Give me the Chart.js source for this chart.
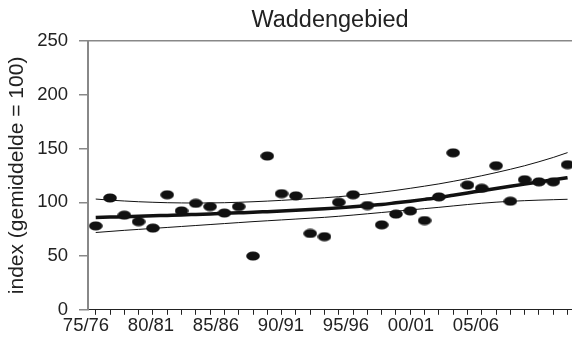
<!DOCTYPE html>
<html>
<head>
<meta charset="utf-8">
<script src="https://cdn.jsdelivr.net/npm/chart.js@4.4.1/dist/chart.umd.min.js"></script>
<style>
  html, body { margin: 0; background: #fff; }
  #wrap { width: 572px; height: 343px; }
</style>
</head>
<body>
<div id="wrap"><canvas id="waddenChart"></canvas></div>
<script>
const titleText = 'Waddengebied';
const yTitle = 'index (gemiddelde = 100)';

const seasons = ['75/76', '76/77', '77/78', '78/79', '79/80', '80/81', '81/82', '82/83', '83/84', '84/85',
    '85/86', '86/87', '87/88', '88/89', '89/90', '90/91', '91/92', '92/93', '93/94', '94/95',
    '95/96', '96/97', '97/98', '98/99', '99/00', '00/01', '01/02', '02/03', '03/04', '04/05',
    '05/06', '06/07', '07/08', '08/09'];

const indexValues = [78, 104, 88, 82, 76, 107, 92, 99, 96, 90,
    96, 50, 143, 108, 106, 71, 68, 100, 107, 97,
    79, 89, 92, 83, 105, 146, 116, 113, 134, 101,
    121, 119, 119, 135];

const trendValues = [85.8, 86.2, 86.6, 87.0, 87.4, 87.8, 88.2, 88.7, 89.2, 89.7,
    90.2, 90.7, 91.3, 91.9, 92.5, 93.2, 93.9, 94.8, 95.8, 96.9,
    98.0, 99.5, 101.0, 102.7, 104.5, 106.6, 108.7, 110.8, 112.9, 114.9,
    116.9, 118.9, 120.9, 122.9];

const upperValues = [103.0, 102.0, 101.2, 100.5, 100.0, 99.6, 99.4, 99.3, 99.4, 99.6,
    100.0, 100.5, 101.1, 101.8, 102.6, 103.4, 104.2, 105.2, 106.4, 107.8,
    109.4, 111.1, 113.0, 115.0, 117.1, 119.5, 122.0, 124.7, 127.6, 130.7,
    134.0, 137.7, 141.7, 146.2];

const lowerValues = [71.9, 72.9, 73.9, 74.8, 75.7, 76.6, 77.5, 78.4, 79.3, 80.2,
    81.1, 82.0, 82.8, 83.6, 84.4, 85.2, 86.0, 87.0, 88.1, 89.3,
    90.5, 91.7, 92.9, 94.1, 95.3, 96.6, 97.9, 99.1, 100.1, 100.9,
    101.5, 102.0, 102.4, 102.8];

const seasonTickLabels = ['75/76', '80/81', '85/86', '90/91', '95/96', '00/01', '05/06'];
const yTickValues = [0, 50, 100, 150, 200, 250];

Chart.defaults.font.family = '"Liberation Sans", Arial, sans-serif';
Chart.defaults.color = '#222';

// flat black oval used as marker
const dot = document.createElement('canvas');
dot.width = 14;
dot.height = 10;
const dctx = dot.getContext('2d');
dctx.fillStyle = '#111';
dctx.beginPath();
dctx.ellipse(7, 5, 6.8, 4.6, 0, 0, Math.PI * 2);
dctx.fill();

const toXY = arr => arr.map((v, i) => ({ x: i, y: v }));

// title centred over the plot area rather than the canvas
const plotTitle = {
    id: 'plotTitle',
    afterDraw(chart) {
        const { ctx, chartArea } = chart;
        ctx.save();
        ctx.font = '23.5px "Liberation Sans", Arial, sans-serif';
        ctx.fillStyle = '#222';
        ctx.textAlign = 'center';
        ctx.textBaseline = 'alphabetic';
        ctx.fillText(titleText, (chartArea.left + chartArea.right) / 2, 27);
        ctx.restore();
    }
};

const line = (data, width) => ({
    data: toXY(data),
    showLine: true,
    borderColor: '#111',
    borderWidth: width,
    pointRadius: 0,
    cubicInterpolationMode: 'monotone',
    fill: false
});

new Chart(document.getElementById('waddenChart'), {
    type: 'scatter',
    data: {
        datasets: [
            {
                data: toXY(indexValues),
                pointStyle: dot,
                pointRadius: 7,
                showLine: false,
                clip: false
            },
            line(trendValues, 3.5),
            line(upperValues, 1),
            line(lowerValues, 1)
        ]
    },
    options: {
        responsive: true,
        maintainAspectRatio: false,
        animation: false,
        layout: { autoPadding: false, padding: { top: 41, left: 3, right: 0, bottom: 6 } },
        plugins: {
            legend: { display: false },
            tooltip: { enabled: false }
        },
        scales: {
            x: {
                type: 'linear',
                position: 'bottom',
                weight: 0,
                min: -0.54,
                max: 33.31,
                afterBuildTicks: s => { s.ticks = seasons.map((_, i) => ({ value: i })); },
                ticks: { display: false },
                grid: { drawOnChartArea: false, tickLength: 5, color: '#222' },
                border: { color: '#222', width: 1 }
            },
            seasonAxis: {
                type: 'linear',
                position: 'bottom',
                weight: 1,
                min: 0.031,
                max: 7.477,
                afterBuildTicks: s => { s.ticks = seasonTickLabels.map((_, k) => ({ value: k })); },
                ticks: {
                    padding: 0,
                    autoSkip: false,
                    maxRotation: 0,
                    font: { size: 18.5 },
                    callback: v => seasonTickLabels[v]
                },
                grid: { display: false, drawTicks: false },
                border: { display: false }
            },
            y: {
                min: 0,
                max: 250,
                afterBuildTicks: s => { s.ticks = yTickValues.map(v => ({ value: v })); },
                afterFit: s => { s.width = 85; },
                ticks: { padding: 11, font: { size: 18.5 } },
                grid: {
                    color: c => (c.tick && c.tick.value === 250) ? '#888' : 'rgba(0,0,0,0)',
                    tickColor: '#888',
                    tickLength: 9,
                    lineWidth: 1.5
                },
                border: { color: '#888', width: 2 },
                title: {
                    display: true,
                    text: yTitle,
                    font: { size: 21 },
                    padding: { top: 2, bottom: 7 }
                }
            }
        }
    },
    plugins: [plotTitle]
});
</script>
</body>
</html>
